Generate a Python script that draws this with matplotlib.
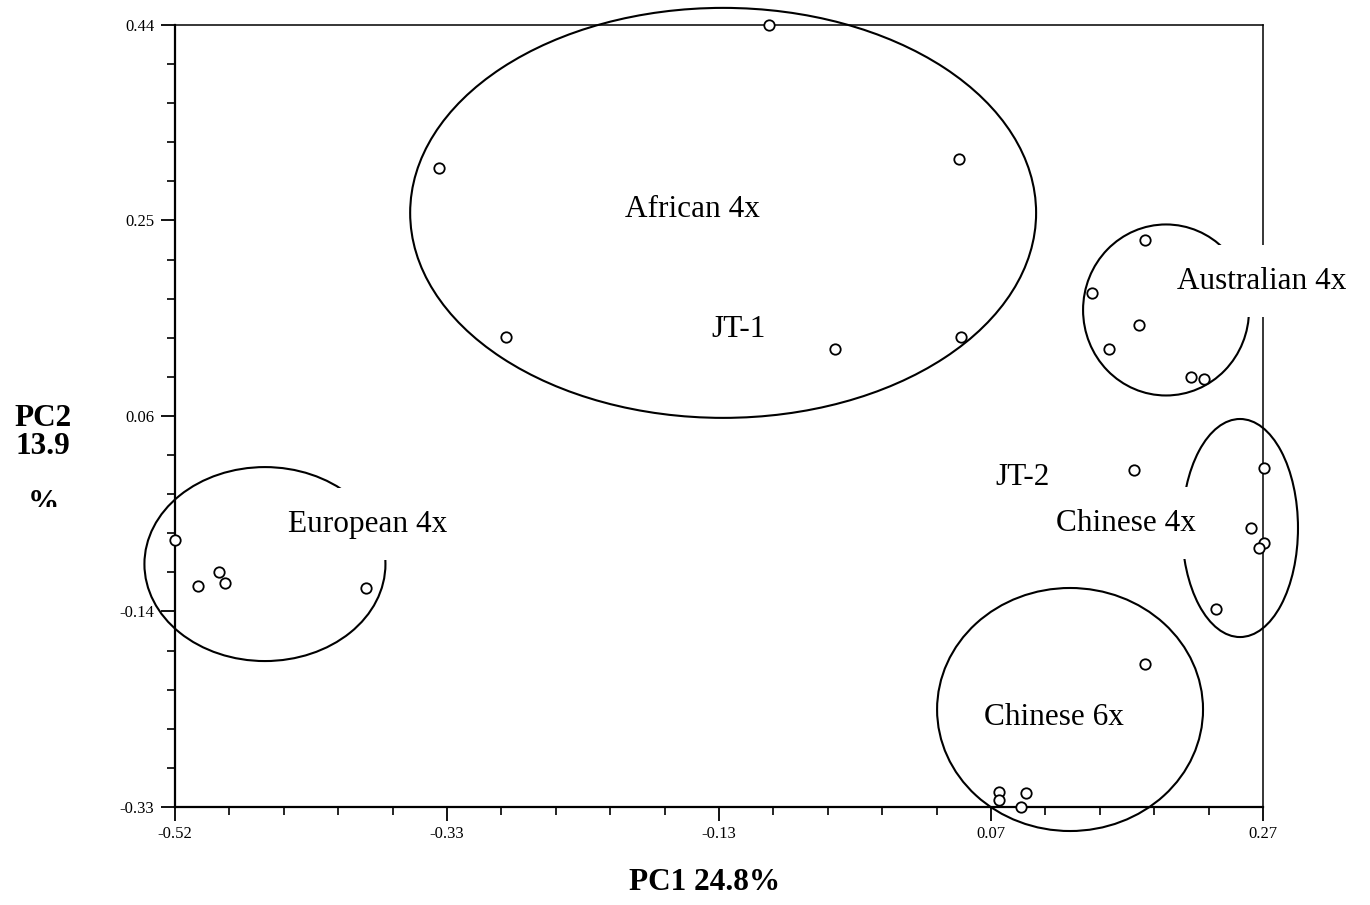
import numpy as np
import matplotlib
matplotlib.use("Agg")
import matplotlib.pyplot as plt
from matplotlib.patches import Ellipse
from matplotlib.ticker import FixedLocator
from matplotlib.transforms import Bbox

plt.rcParams["font.family"] = ["Liberation Serif", "DejaVu Serif"]

# ---- PCA scores per group (PC1, PC2) ----
african_pc1 = [-0.089, -0.328, 0.049, -0.280, -0.041, 0.051]
african_pc2 = [0.440, 0.299, 0.308, 0.133, 0.121, 0.133]
australian_pc1 = [0.184, 0.146, 0.180, 0.158, 0.218, 0.227]
australian_pc2 = [0.228, 0.176, 0.145, 0.121, 0.093, 0.091]
chinese4x_pc1 = [0.176, 0.271, 0.261, 0.271, 0.267, 0.236]
chinese4x_pc2 = [0.002, 0.004, -0.055, -0.070, -0.075, -0.135]
chinese6x_pc1 = [0.184, 0.078, 0.078, 0.098, 0.094]
chinese6x_pc2 = [-0.189, -0.315, -0.323, -0.316, -0.330]
european_pc1 = [-0.520, -0.503, -0.488, -0.484, -0.381]
european_pc2 = [-0.067, -0.112, -0.099, -0.109, -0.114]

# group outlines: centre (PC1, PC2), width, height
ellipse_names = ["African", "Australian", "Chinese 4x", "Chinese 6x", "European"]
ellipse_cx = [-0.122, 0.1996, 0.2533, 0.1299, -0.4547]
ellipse_cy = [0.255, 0.1594, -0.0553, -0.234, -0.0908]
ellipse_w = [0.4545, 0.1205, 0.0842, 0.1931, 0.175]
ellipse_h = [0.4037, 0.1684, 0.2147, 0.2393, 0.191]

# group / accession labels
label_text = ["African 4x", "JT-1", "Australian 4x", "JT-2", "Chinese 4x", "Chinese 6x", "European 4x"]
label_x = [-0.1446, -0.111, 0.2693, 0.0952, 0.1705, 0.1182, -0.3799]
label_y = [0.2588, 0.1397, 0.1879, -0.0051, -0.0504, -0.2414, -0.0514]
label_boxed = [False, False, True, False, True, False, True]

# axis range and tick labels
x_range = (-0.52, 0.27)
y_range = (-0.33, 0.44)
x_tick_labels = ["-0.52", "-0.33", "-0.13", "0.07", "0.27"]
y_tick_labels = ["-0.33", "-0.14", "0.06", "0.25", "0.44"]

fig = plt.figure(figsize=(13.7, 9.05), dpi=100)
ax = fig.add_axes([0.12774, 0.10829, 0.79416, 0.86409])
ax.set_xlim(*x_range)
ax.set_ylim(*y_range)

for cx, cy, w, h in zip(ellipse_cx, ellipse_cy, ellipse_w, ellipse_h):
    ax.add_patch(Ellipse((cx, cy), w, h, fill=False, edgecolor="black",
                         linewidth=1.5, clip_on=False, zorder=1))

groups = [(african_pc1, african_pc2), (australian_pc1, australian_pc2),
          (chinese4x_pc1, chinese4x_pc2), (chinese6x_pc1, chinese6x_pc2),
          (european_pc1, european_pc2)]
for px, py in groups:
    ax.plot(px, py, linestyle="none", marker="o", markersize=7.5,
            markerfacecolor="white", markeredgecolor="black",
            markeredgewidth=1.3, clip_on=False, zorder=5)

for t, lx, ly, boxed in zip(label_text, label_x, label_y, label_boxed):
    kw = {}
    if boxed:
        kw["bbox"] = dict(boxstyle="square,pad=0.7", facecolor="white", edgecolor="none")
    ax.text(lx, ly, t, ha="center", va="center", fontsize=22.5, zorder=4, **kw)

# ticks: five labelled majors, five subdivisions between them
xmaj = np.linspace(*x_range, len(x_tick_labels))
ymaj = np.linspace(*y_range, len(y_tick_labels))
ax.xaxis.set_major_locator(FixedLocator(xmaj))
ax.yaxis.set_major_locator(FixedLocator(ymaj))
ax.xaxis.set_minor_locator(FixedLocator(np.linspace(*x_range, 21)))
ax.yaxis.set_minor_locator(FixedLocator(np.linspace(*y_range, 21)))
ax.set_xticklabels(x_tick_labels)
ax.set_yticklabels(y_tick_labels)
ax.tick_params(which="major", direction="out", length=10, width=1.3,
               labelsize=12, pad=4)
ax.tick_params(which="minor", direction="out", length=5.5, width=1.2)
ax.tick_params(axis="y", which="major", pad=5)

for side in ["left", "bottom"]:
    ax.spines[side].set_linewidth(1.6)
for side in ["top", "right"]:
    ax.spines[side].set_linewidth(1.1)

fig.text(705 / 1370, 1 - 882 / 905, "PC1 24.8%", ha="center", va="center",
         fontsize=22.5, fontweight="bold")
fig.text(43 / 1370, 1 - 418 / 905, "PC2", ha="center", va="center",
         fontsize=22.5, fontweight="bold")
fig.text(43 / 1370, 1 - 446 / 905, "13.9", ha="center", va="center",
         fontsize=22.5, fontweight="bold")
pct = fig.text(43 / 1370, 1 - 503 / 905, "%", ha="center", va="center",
               fontsize=22.5, fontweight="bold")
pct.set_clip_box(Bbox.from_extents(0, 905 - 507, 120, 905 - 480))
pct.set_clip_on(True)

fig.savefig("out.png", dpi=100, facecolor="white")
